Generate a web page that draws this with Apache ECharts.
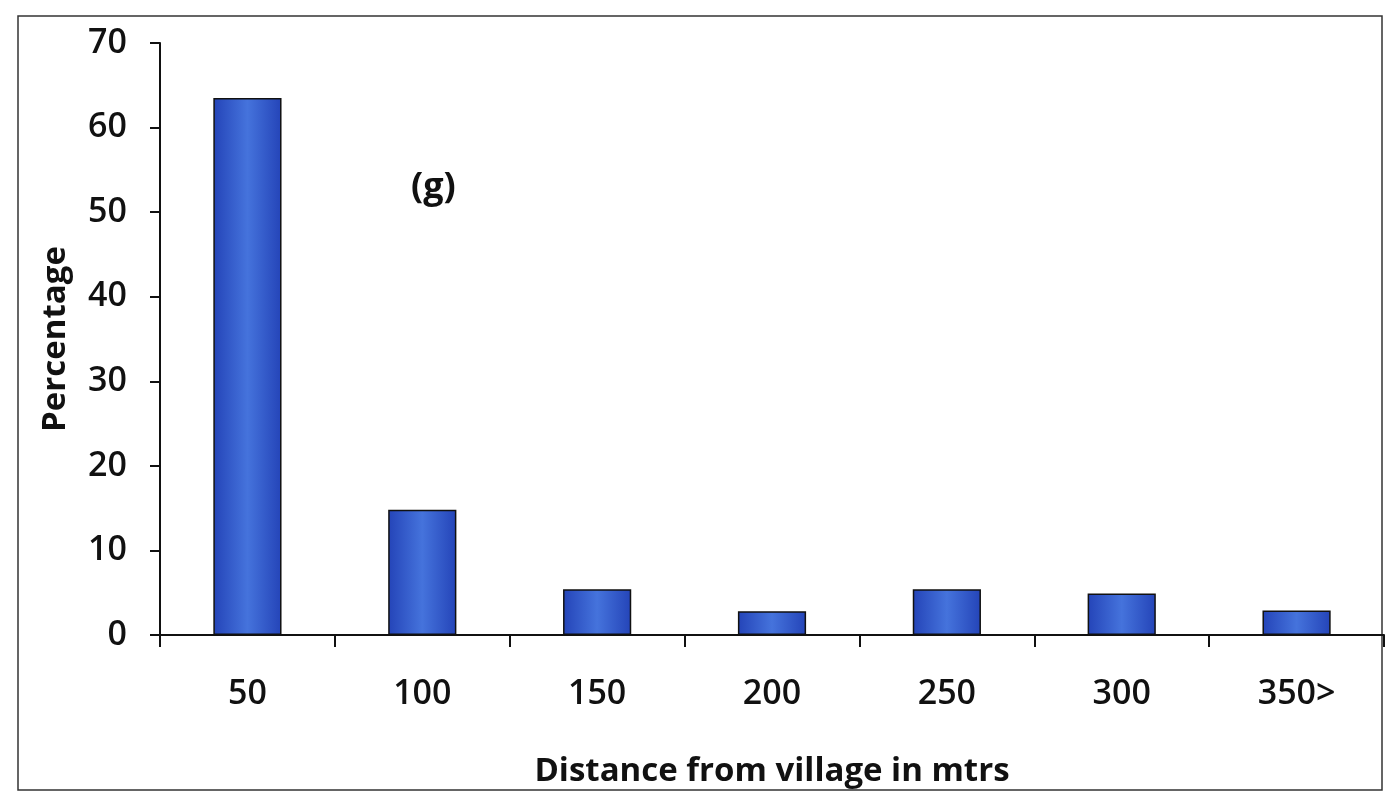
<!DOCTYPE html>
<html>
<head>
<meta charset="utf-8">
<script src="https://cdn.jsdelivr.net/npm/echarts@6/dist/echarts.min.js"></script>
<style>html,body{margin:0;padding:0;background:#fff}#c{width:1390px;height:795px}</style>
</head>
<body>
<div id="c"></div>
<script>
const categories = ['50', '100', '150', '200', '250', '300', '350>'];
const percentages = [63.5, 14.8, 5.4, 2.8, 5.4, 4.9, 2.9];
const yTicks = [0, 10, 20, 30, 40, 50, 60, 70];

const chart = echarts.init(document.getElementById('c'));
const font = '"Open Sans", "Liberation Sans", sans-serif';
chart.setOption({
  animation: false,
  backgroundColor: '#fff',
  grid: { left: 160, right: 6, top: 43, bottom: 160 },
  graphic: [
    { type: 'rect', shape: { x: 18, y: 16, width: 1364, height: 774 }, style: { fill: 'none', stroke: '#333', lineWidth: 1.5 } },
    { type: 'text', left: 411, top: 170, style: { text: '(g)', font: 'bold 36px ' + font, fill: '#111' } }
  ],
  xAxis: {
    type: 'category',
    data: categories,
    name: 'Distance from village in mtrs',
    nameLocation: 'middle',
    nameGap: 120,
    nameTextStyle: { fontFamily: font, fontWeight: 'bold', fontSize: 33, color: '#111' },
    axisLine: { lineStyle: { color: '#111', width: 2 } },
    axisTick: { show: true, length: 12, lineStyle: { color: '#111', width: 2 } },
    axisLabel: { margin: 42, fontFamily: font, fontSize: 34, fontWeight: 600, color: '#111' }
  },
  yAxis: {
    type: 'value',
    min: 0, max: 70, interval: 10,
    name: 'Percentage',
    nameLocation: 'middle',
    nameGap: 88,
    nameTextStyle: { fontFamily: font, fontWeight: 'bold', fontSize: 33, color: '#111' },
    axisLine: { show: true, lineStyle: { color: '#111', width: 2 } },
    axisTick: { show: true, length: 10, lineStyle: { color: '#111', width: 2 } },
    splitLine: { show: false },
    axisLabel: {
      margin: 33, fontFamily: font, fontSize: 34, fontWeight: 600, color: '#111',
      formatter: v => yTicks.includes(v) ? String(v) : ''
    }
  },
  series: [{
    type: 'bar',
    data: percentages,
    barWidth: '39%',
    itemStyle: {
      borderColor: '#111', borderWidth: 1.5,
      color: new echarts.graphic.LinearGradient(0, 0, 1, 0, [
        { offset: 0, color: '#2444b8' },
        { offset: 0.5, color: '#4573dc' },
        { offset: 1, color: '#2444b8' }
      ])
    }
  }]
});
</script>
</body>
</html>
